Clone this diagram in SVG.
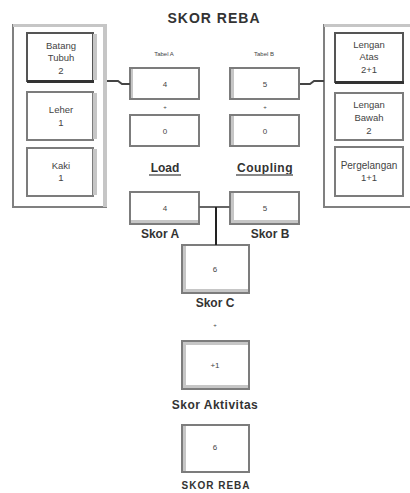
<svg xmlns="http://www.w3.org/2000/svg" width="410" height="493" viewBox="0 0 410 493">
<style>
  text{font-family:"Liberation Sans",Arial,sans-serif;fill:#444;text-anchor:middle}
  .t{font-size:9.5px}
  .d{font-size:8px}
  .s{font-size:6px}
  .b{font-weight:bold;font-size:12px;fill:#333}
  .box{fill:#fff;stroke:#7c7c7c;stroke-width:2}
  .panel{fill:#fff;stroke:#808080;stroke-width:2}
  .sh{fill:#c6c6c6}
  .con{fill:none;stroke:#444;stroke-width:2}
</style>
<rect width="410" height="493" fill="#fff"/>
<text x="214" y="23" class="b" style="font-size:14px;letter-spacing:1px">SKOR REBA</text>

<g id="panel-left">
  <rect class="panel" x="13" y="25" width="93" height="182"/>
  <rect class="sh" x="13" y="24" width="94" height="3"/>
  <rect class="sh" x="103" y="24" width="4" height="183"/>
</g>
<g id="batang">
  <rect class="box" x="27" y="33" width="66" height="48" style="stroke:#555"/>
  <rect x="27" y="80" width="67" height="3" fill="#333"/>
  <rect class="sh" x="93" y="34" width="4" height="46"/>
  <text class="t" x="61" y="49">Batang</text>
  <text class="t" x="61" y="61">Tubuh</text>
  <text class="t" x="61" y="74">2</text>
</g>
<g id="leher">
  <rect class="box" x="27" y="92" width="66" height="48"/>
  <rect class="sh" x="93" y="93" width="4" height="46"/>
  <text class="t" x="61" y="113">Leher</text>
  <text class="t" x="61" y="126">1</text>
</g>
<g id="kaki">
  <rect class="box" x="27" y="148" width="66" height="48"/>
  <rect class="sh" x="93" y="149" width="4" height="46"/>
  <text class="t" x="61" y="169">Kaki</text>
  <text class="t" x="61" y="181">1</text>
</g>

<g id="panel-right">
  <rect class="panel" x="324" y="25" width="90" height="182"/>
  <rect class="sh" x="324" y="24" width="86" height="3"/>
</g>
<g id="lengan-atas">
  <rect class="box" x="335" y="33" width="68" height="49" style="stroke:#555"/>
  <rect x="335" y="81" width="69" height="3" fill="#333"/>
  <text class="t" x="369" y="48">Lengan</text>
  <text class="t" x="369" y="60">Atas</text>
  <text class="t" x="369" y="73">2+1</text>
</g>
<g id="lengan-bawah">
  <rect class="box" x="335" y="93" width="68" height="47"/>
  <text class="t" x="369" y="108">Lengan</text>
  <text class="t" x="369" y="121">Bawah</text>
  <text class="t" x="369" y="134">2</text>
</g>
<g id="pergelangan">
  <rect class="box" x="335" y="147" width="68" height="49"/>
  <text class="t" x="369" y="169" style="font-size:10px">Pergelangan</text>
  <text class="t" x="369" y="181">1+1</text>
</g>

<g id="tabel-a">
  <text class="s" x="164" y="56">Tabel A</text>
  <rect class="box" x="130" y="68" width="69" height="31"/>
  <rect class="sh" x="131" y="69" width="2" height="29"/>
  <text class="d" x="165" y="87">4</text>
  <text class="s" x="165" y="109">+</text>
</g>
<g id="load">
  <rect class="box" x="130" y="115" width="69" height="31"/>
  <text class="d" x="165" y="134">0</text>
  <text class="b" x="165" y="172">Load</text>
  <rect x="149" y="174" width="32" height="2" fill="#888"/>
</g>
<g id="tabel-b">
  <text class="s" x="264" y="56">Tabel B</text>
  <rect class="box" x="230" y="68" width="69" height="31"/>
  <rect class="sh" x="231" y="69" width="3" height="29"/>
  <text class="d" x="265" y="87">5</text>
  <text class="s" x="265" y="109">+</text>
</g>
<g id="coupling">
  <rect class="box" x="230" y="115" width="69" height="31"/>
  <rect class="sh" x="231" y="116" width="3" height="29"/>
  <text class="d" x="265" y="134">0</text>
  <text class="b" x="265" y="172" style="letter-spacing:0.5px">Coupling</text>
  <rect x="236" y="174" width="57" height="2" fill="#888"/>
</g>
<g id="skor-a">
  <rect class="box" x="130" y="192" width="69" height="32"/>
  <rect class="sh" x="131" y="220" width="67" height="3"/>
  <text class="d" x="165" y="211">4</text>
  <text class="b" x="160" y="238">Skor A</text>
</g>
<g id="skor-b">
  <rect class="box" x="230" y="192" width="69" height="32"/>
  <rect class="sh" x="231" y="193" width="3" height="30"/>
  <rect class="sh" x="231" y="220" width="67" height="3"/>
  <text class="d" x="265" y="211">5</text>
  <text class="b" x="270" y="238">Skor B</text>
</g>
<g id="skor-c">
  <rect class="box" x="182" y="245" width="67" height="48"/>
  <rect class="sh" x="183" y="246" width="3" height="46"/>
  <rect class="sh" x="183" y="289" width="65" height="3"/>
  <text class="d" x="215" y="272">6</text>
  <text class="b" x="215" y="307">Skor C</text>
  <text class="s" x="215" y="327">+</text>
</g>
<g id="aktivitas">
  <rect class="box" x="182" y="341" width="67" height="48"/>
  <rect class="sh" x="183" y="342" width="3" height="46"/>
  <rect class="sh" x="183" y="342" width="65" height="3"/>
  <rect class="sh" x="183" y="385" width="65" height="3"/>
  <text class="d" x="215" y="368">+1</text>
  <text class="b" x="215" y="409" style="letter-spacing:0.5px">Skor Aktivitas</text>
</g>
<g id="skor-reba">
  <rect class="box" x="182" y="425" width="67" height="47"/>
  <rect class="sh" x="183" y="426" width="3" height="45"/>
  <text class="d" x="215" y="450">6</text>
  <text class="b" x="216" y="489" style="font-size:10px;letter-spacing:1px">SKOR REBA</text>
</g>

<g id="connectors">
  <polyline class="con" points="107,81 118,81 122,84 130,84"/>
  <polyline class="con" points="300,84 310,84 314,81 324,81"/>
  <line class="con" x1="199" y1="207" x2="230" y2="207" style="stroke:#666"/>
  <line class="con" x1="216" y1="207" x2="216" y2="245" style="stroke:#222"/>
</g>
</svg>
